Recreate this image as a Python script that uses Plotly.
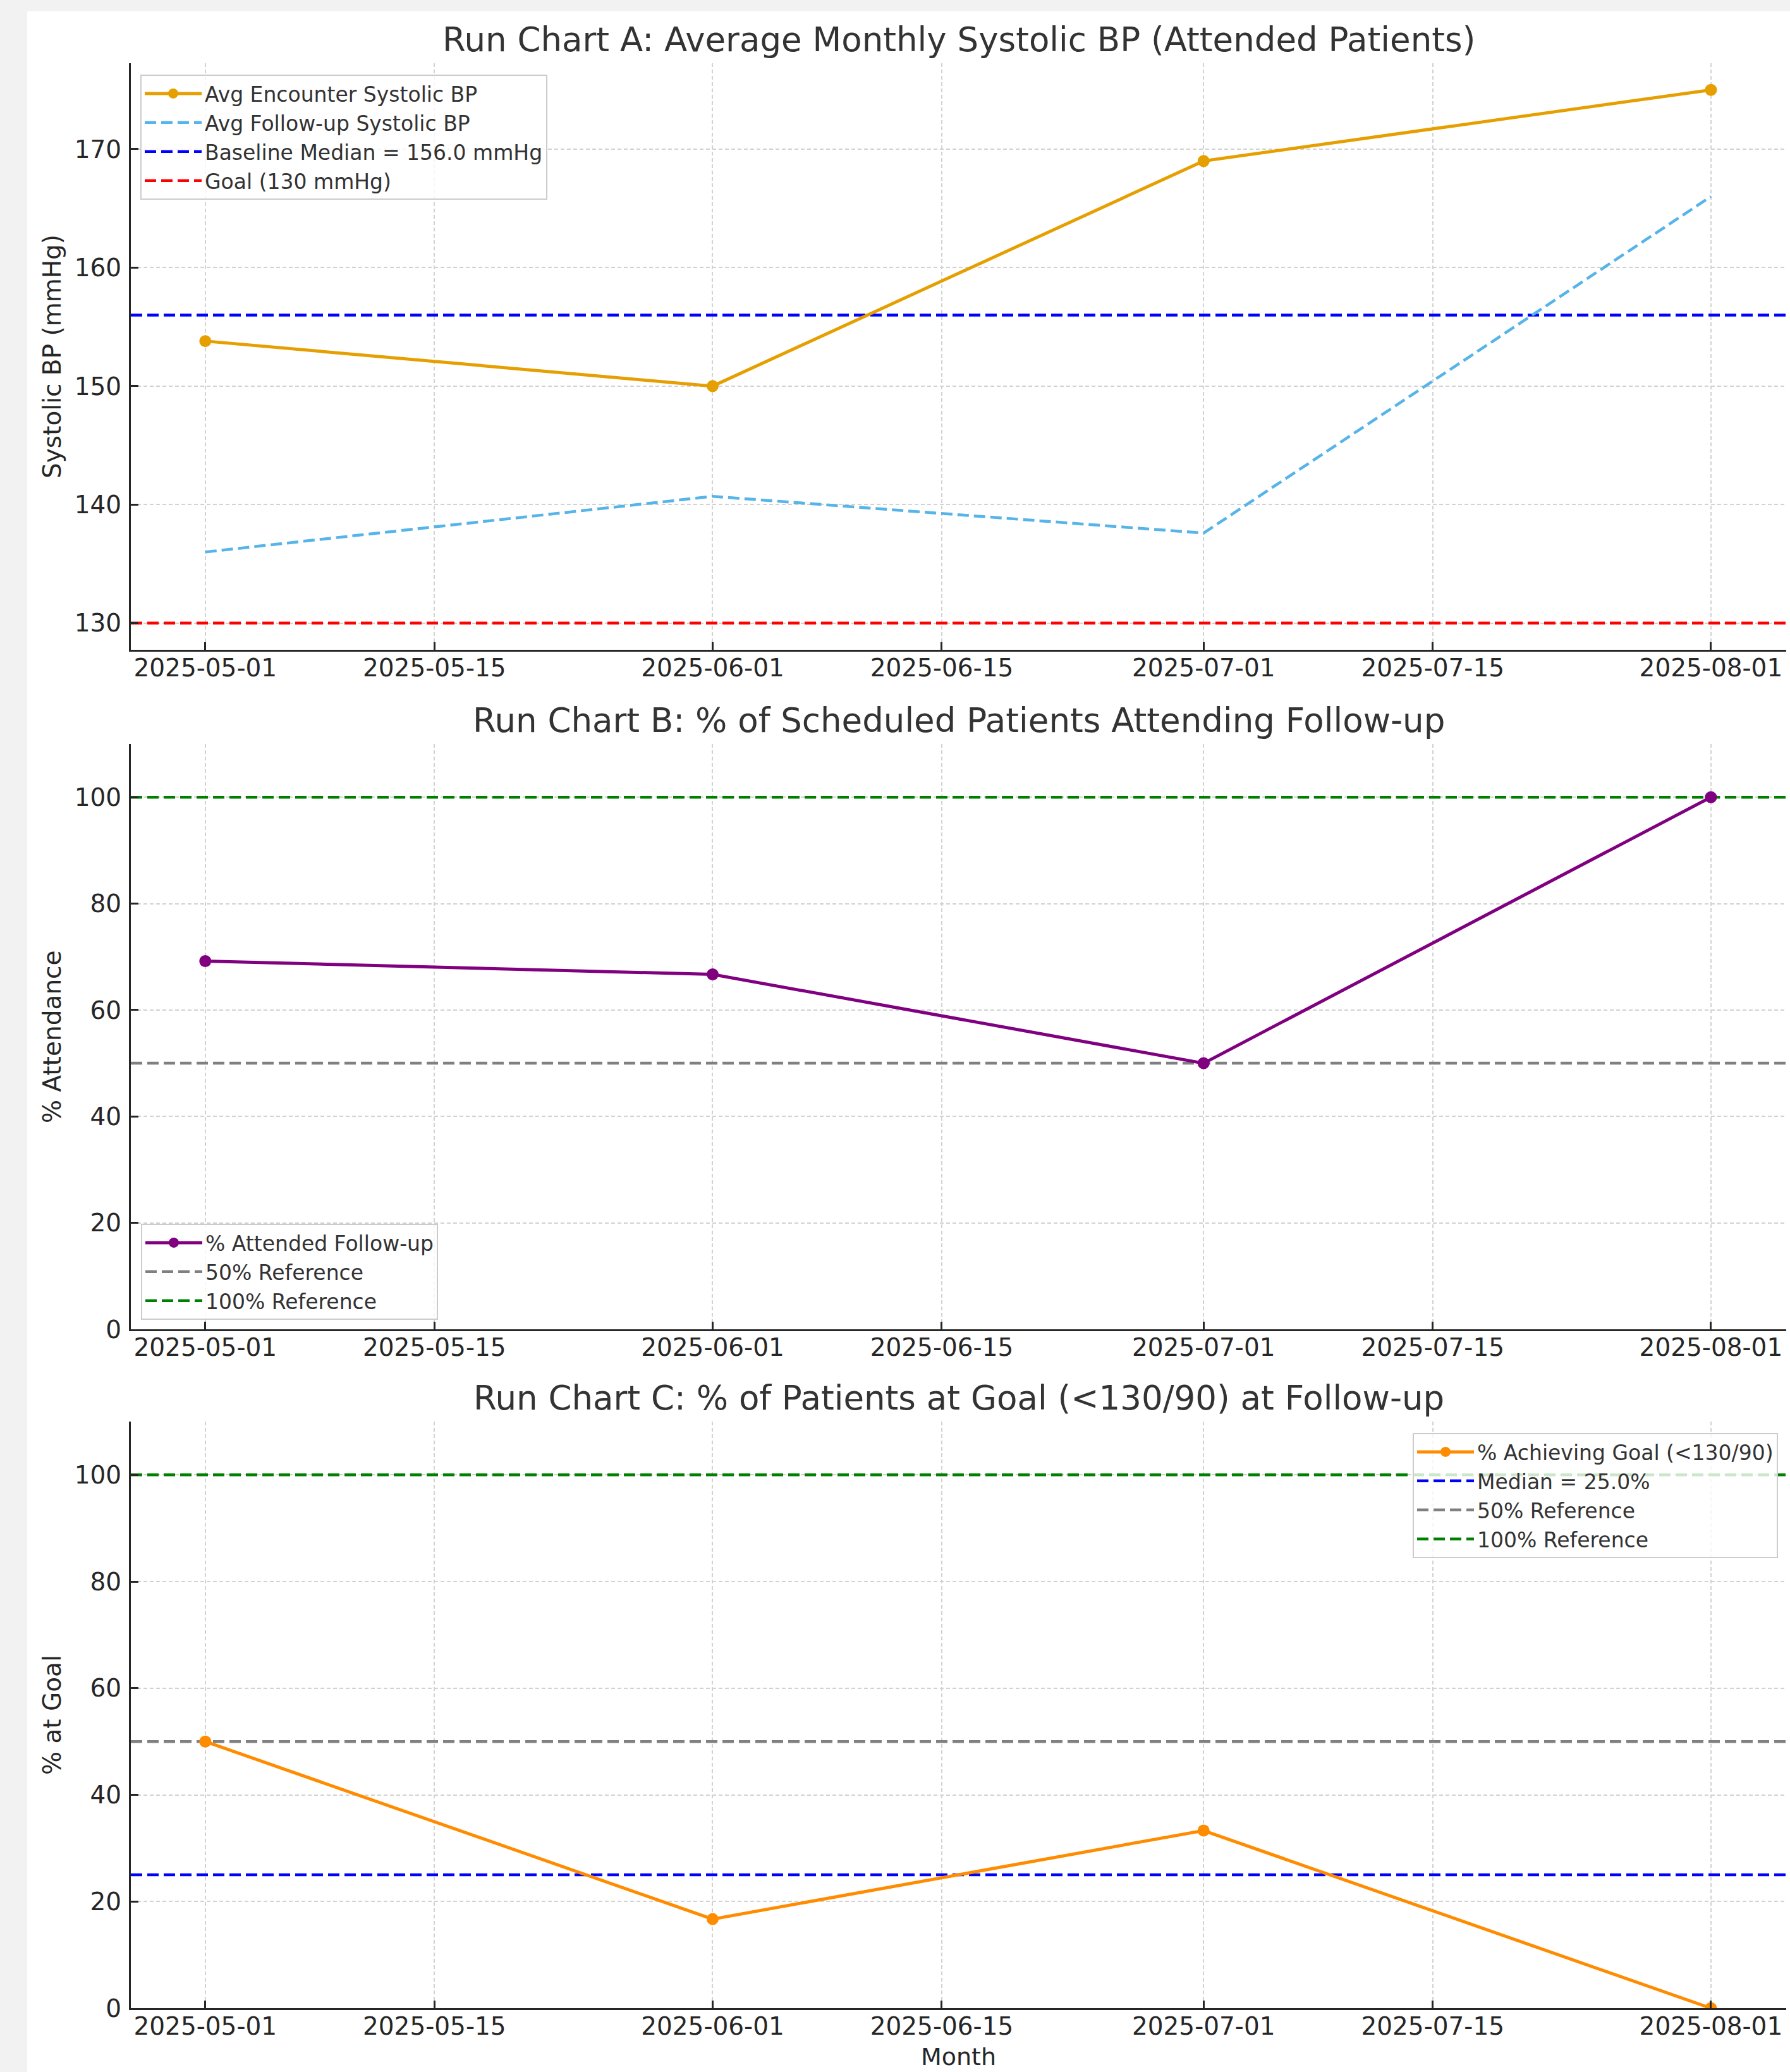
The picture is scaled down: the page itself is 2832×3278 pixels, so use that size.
import plotly.graph_objects as go

# ---------------- data ----------------
months = ["2025-05-01", "2025-06-01", "2025-07-01", "2025-08-01"]
enc_sbp = [153.8, 150.0, 169.0, 175.0]
fu_sbp = [136.0, 140.7, 137.6, 166.0]
baseline_median_sbp = 156.0
goal_sbp = 130.0

attend_pct = [69.2, 66.7, 50.0, 100.0]
goal_pct = [50.0, 16.7, 33.3, 0.0]
median_goal_pct = 25.0
ref_50 = 50.0
ref_100 = 100.0

x_tickvals = ["2025-05-01", "2025-05-15", "2025-06-01", "2025-06-15",
              "2025-07-01", "2025-07-15", "2025-08-01"]
x_range = ["2025-04-26 10:48", "2025-08-05 14:24"]

titles = ["Run Chart A: Average Monthly Systolic BP (Attended Patients)",
          "Run Chart B: % of Scheduled Patients Attending Follow-up",
          "Run Chart C: % of Patients at Goal (<130/90) at Follow-up"]
ylabels = ["Systolic BP (mmHg)", "% Attendance", "% at Goal"]

# ---------------- layout geometry ----------------
W, H = 2832, 3278
ML, MR, MT, MB = 207, 6, 100, 101
PW = W - ML - MR
PH = H - MT - MB


def py(pix):  # pixel y (from top) -> paper y
    return (H - MB - pix) / PH


def px(pix):
    return (pix - ML) / PW


panels = [(100, 1028), (1177, 2103), (2249, 3177)]
domains = [[py(b), py(t)] for (t, b) in panels]

FONT = "DejaVu Sans"
TXT = "#333333"
TICK = "#262626"
GRID = "#d2d2d2"
DASH = "18px,8px"
LW = 5
DLW = 4.5

fig = go.Figure()


def hline(y, color, name, xa, ya, leg, rank):
    fig.add_trace(go.Scatter(x=x_range, y=[y, y], mode="lines", name=name,
                             line=dict(color=color, width=DLW, dash=DASH),
                             xaxis=xa, yaxis=ya, legend=leg, legendrank=rank, hoverinfo="skip"))


# reference lines first (drawn beneath data)
hline(baseline_median_sbp, "#0000FF", f"Baseline Median = {baseline_median_sbp:.1f} mmHg", "x", "y", "legend", 3)
hline(goal_sbp, "#FF0000", f"Goal ({goal_sbp:.0f} mmHg)", "x", "y", "legend", 4)
hline(ref_50, "#808080", "50% Reference", "x2", "y2", "legend2", 2)
hline(ref_100, "#008000", "100% Reference", "x2", "y2", "legend2", 3)
hline(median_goal_pct, "#0000FF", f"Median = {median_goal_pct:.1f}%", "x3", "y3", "legend3", 2)
hline(ref_50, "#808080", "50% Reference", "x3", "y3", "legend3", 3)
hline(ref_100, "#008000", "100% Reference", "x3", "y3", "legend3", 4)

# Chart A traces
fig.add_trace(go.Scatter(x=months, y=fu_sbp, mode="lines", name="Avg Follow-up Systolic BP",
                         line=dict(color="#56B4E9", width=DLW, dash=DASH),
                         xaxis="x", yaxis="y", legend="legend", legendrank=2))
fig.add_trace(go.Scatter(x=months, y=enc_sbp, mode="lines+markers", name="Avg Encounter Systolic BP",
                         line=dict(color="#E69F00", width=LW), marker=dict(size=19, color="#E69F00"),
                         xaxis="x", yaxis="y", legend="legend", legendrank=1))
# Chart B
fig.add_trace(go.Scatter(x=months, y=attend_pct, mode="lines+markers", name="% Attended Follow-up",
                         line=dict(color="#800080", width=LW), marker=dict(size=19, color="#800080"),
                         xaxis="x2", yaxis="y2", legend="legend2", legendrank=1))
# Chart C
fig.add_trace(go.Scatter(x=months, y=goal_pct, mode="lines+markers", name="% Achieving Goal (<130/90)",
                         line=dict(color="#FF8C00", width=LW), marker=dict(size=19, color="#FF8C00"),
                         xaxis="x3", yaxis="y3", legend="legend3", legendrank=1))

shapes = [
    dict(type="rect", xref="paper", yref="paper", x0=px(0), x1=px(43), y0=py(H), y1=py(0),
         fillcolor="#f2f2f2", line=dict(width=0), layer="below"),
    dict(type="rect", xref="paper", yref="paper", x0=px(0), x1=px(W), y0=py(18), y1=py(0),
         fillcolor="#f2f2f2", line=dict(width=0), layer="below"),
]

axis_common = dict(showline=True, linecolor=TICK, linewidth=3, mirror=False,
                   ticks="inside", ticklen=12, tickwidth=2.5, tickcolor=TICK,
                   showgrid=True, gridcolor=GRID, gridwidth=2, griddash="6px,4px",
                   zeroline=False, tickfont=dict(family=FONT, size=39, color=TICK))

layout = dict(width=W, height=H, margin=dict(l=ML, r=MR, t=MT, b=MB),
              paper_bgcolor="white", plot_bgcolor="white",
              font=dict(family=FONT, color=TXT), shapes=shapes, showlegend=True)

yranges = [[127.75, 177.25], [0, 110], [0, 110]]
yticks = [[130, 140, 150, 160, 170], [0, 20, 40, 60, 80, 100], [0, 20, 40, 60, 80, 100]]
for i in range(3):
    s = "" if i == 0 else str(i + 1)
    layout[f"xaxis{s}"] = dict(axis_common, domain=[0, 1], anchor=f"y{s}", range=x_range,
                               type="date", tickmode="array", tickvals=x_tickvals,
                               ticktext=x_tickvals, ticklabelstandoff=-8)
    layout[f"yaxis{s}"] = dict(axis_common, domain=domains[i], anchor=f"x{s}", range=yranges[i],
                               tickmode="array", tickvals=yticks[i], ticklabelstandoff=4)

leg_common = dict(font=dict(family=FONT, size=33, color=TXT), bgcolor="rgba(255,255,255,0.8)",
                  bordercolor="#cccccc", borderwidth=2, itemwidth=90, tracegroupgap=0)
layout["legend"] = dict(leg_common, x=px(222), y=py(118), xanchor="left", yanchor="top")
layout["legend2"] = dict(leg_common, x=px(223), y=py(2088), xanchor="left", yanchor="bottom")
layout["legend3"] = dict(leg_common, x=px(2813), y=py(2267), xanchor="right", yanchor="top")

annotations = []
for i, (t, b) in enumerate(panels):
    annotations.append(dict(text=titles[i], xref="paper", yref="paper", x=0.5, y=py(t),
                            xanchor="center", yanchor="bottom", yshift=5, showarrow=False,
                            font=dict(family=FONT, size=53, color=TXT)))
    annotations.append(dict(text=ylabels[i], xref="paper", yref="paper", x=px(82), y=py((t + b) / 2),
                            xanchor="center", yanchor="middle", textangle=-90, showarrow=False,
                            font=dict(family=FONT, size=39, color=TICK)))
annotations.append(dict(text="Month", xref="paper", yref="paper", x=0.5, y=py(3254),
                        xanchor="center", yanchor="middle", showarrow=False,
                        font=dict(family=FONT, size=38, color=TICK)))
layout["annotations"] = annotations

fig.update_layout(layout)
fig.write_html("out.html", config={"displayModeBar": False},
               post_script="document.body.style.margin='0px';")
